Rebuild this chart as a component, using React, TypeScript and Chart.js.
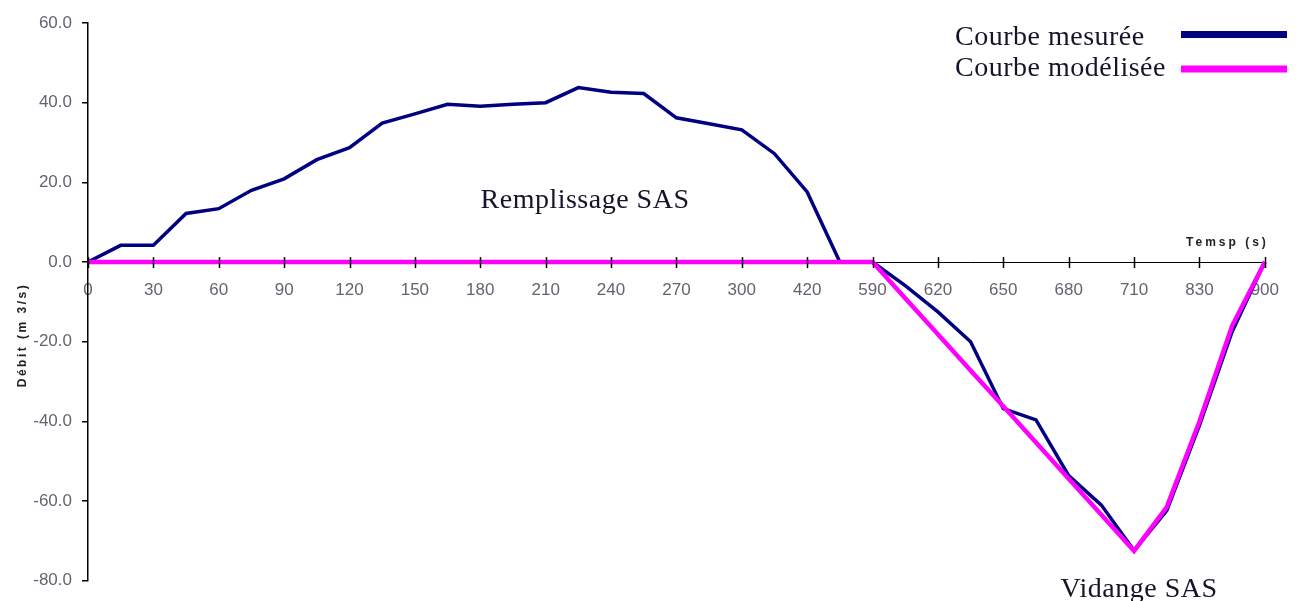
import React, { useEffect, useRef } from "react";
import { Chart, registerables } from "chart.js";

Chart.register(...registerables);

// Time categories (s); only every second one is labelled on the axis
const times: number[] = [
  0, 15, 30, 45, 60, 75, 90, 105, 120, 135, 150, 165, 180, 195, 210, 225, 240, 255,
  270, 285, 300, 360, 420, 505, 590, 605, 620, 635, 650, 665, 680, 695, 710, 770, 830, 865, 900,
];

// Débit mesuré (m3/s)
const measured: number[] = [
  0, 4.2, 4.2, 12.2, 13.4, 18.0, 20.9, 25.7, 28.7, 34.9, 37.2, 39.6, 39.1, 39.6, 40.0, 43.8,
  42.6, 42.3, 36.2, 34.7, 33.2, 27.2, 17.6, 0, 0, -5.9, -12.5, -20.0, -36.8, -39.6, -53.6,
  -61.0, -72.4, -62.4, -41.0, -17.5, 0,
];

// Débit modélisé (m3/s)
const modeled: number[] = [
  0, 0, 0, 0, 0, 0, 0, 0, 0, 0, 0, 0, 0, 0, 0, 0, 0, 0, 0, 0, 0, 0, 0, 0, 0, -9.1, -18.1,
  -27.2, -36.2, -45.3, -54.4, -63.4, -72.5, -61.5, -40.0, -16.0, 0,
];

const seriesNames: string[] = ["Courbe mesurée", "Courbe modélisée"];
const yTicks: number[] = [-80, -60, -40, -20, 0, 20, 40, 60];

const NAVY = "#000080";
const MAGENTA = "#ff00ff";
const TICK_COLOR = "#6a6070";
const TEXT_DARK = "#14142a";

const decorPlugin = {
  id: "decor",
  afterDatasetsDraw(chart: any) {
    const { ctx, chartArea, scales } = chart;
    const x = scales.x;
    const y = scales.y;
    const y0 = y.getPixelForValue(0);
    ctx.save();
    // x tick marks crossing the axis
    ctx.strokeStyle = "#000";
    ctx.lineWidth = 1.5;
    times.forEach((_, i) => {
      if (i % 2 !== 0) return;
      const px = Math.round(x.getPixelForValue(i)) + 0.5;
      ctx.beginPath();
      ctx.moveTo(px, y0 - 5);
      ctx.lineTo(px, y0 + 6);
      ctx.stroke();
    });

    // annotations
    ctx.fillStyle = TEXT_DARK;
    ctx.font = '28px "Liberation Serif", "Times New Roman", serif';
    (ctx as any).letterSpacing = "0.5px";
    ctx.textAlign = "center";
    ctx.textBaseline = "alphabetic";
    ctx.fillText("Remplissage SAS", 585, 208);
    ctx.fillText("Vidange SAS", 1139, 597);

    // legend
    ctx.textAlign = "left";
    ctx.fillText(seriesNames[0], 955, 45);
    ctx.fillText(seriesNames[1], 955, 76);
    ctx.lineWidth = 7;
    ctx.lineCap = "butt";
    ctx.strokeStyle = NAVY;
    ctx.beginPath();
    ctx.moveTo(1181, 34.5);
    ctx.lineTo(1287, 34.5);
    ctx.stroke();
    ctx.strokeStyle = MAGENTA;
    ctx.beginPath();
    ctx.moveTo(1181, 69);
    ctx.lineTo(1287, 69);
    ctx.stroke();

    // axis titles
    ctx.fillStyle = "#222";
    ctx.font = 'bold 12px "Liberation Sans", Arial, sans-serif';
    (ctx as any).letterSpacing = "3px";
    ctx.textAlign = "right";
    ctx.fillText("Temsp (s)", chartArea.right + 4, y0 - 16);

    (ctx as any).letterSpacing = "2.5px";
    ctx.translate(26, 335);
    ctx.rotate(-Math.PI / 2);
    ctx.textAlign = "center";
    ctx.fillText("Débit (m 3/s)", 0, 0);
    ctx.restore();
  },
};

export default function App() {
  const canvasRef = useRef<HTMLCanvasElement | null>(null);

  useEffect(() => {
    if (!canvasRef.current) return;
    const tickFont = {
      family: '"Liberation Sans Narrow", "Liberation Sans", Arial, sans-serif',
      size: 17,
    };
    const chart = new Chart(canvasRef.current, {
      type: "line",
      data: {
        labels: times.map(String),
        datasets: [
          {
            label: seriesNames[0],
            data: measured,
            borderColor: NAVY,
            backgroundColor: NAVY,
            borderWidth: 3.5,
            pointRadius: 0,
            tension: 0,
            order: 2,
          },
          {
            label: seriesNames[1],
            data: modeled,
            borderColor: MAGENTA,
            backgroundColor: MAGENTA,
            borderWidth: 4.5,
            pointRadius: 0,
            tension: 0,
            order: 1,
          },
        ],
      },
      options: {
        responsive: false,
        animation: false,
        devicePixelRatio: 1,
        layout: { padding: { left: 0, right: 29, top: 23, bottom: 18 } },
        plugins: {
          legend: { display: false },
          tooltip: { enabled: false },
          title: { display: false },
        },
        scales: {
          x: {
            type: "category",
            position: { y: 0 } as any,
            offset: false,
            grid: { display: true, drawOnChartArea: false, drawTicks: false },
            border: { display: true, color: "#000", width: 1 },
            ticks: {
              autoSkip: false,
              maxRotation: 0,
              padding: 18,
              color: TICK_COLOR,
              font: tickFont,
              callback: (_v: any, i: number) => (i % 2 === 0 ? String(times[i]) : null),
            },
          },
          y: {
            type: "linear",
            min: -80,
            max: 60,
            afterFit: (scale: any) => {
              scale.width = 88;
            },
            afterBuildTicks: (scale: any) => {
              scale.ticks = yTicks.map((v) => ({ value: v }));
            },
            grid: {
              display: true,
              drawOnChartArea: false,
              drawTicks: true,
              tickLength: 6,
              color: "#000",
              lineWidth: 1.5,
            },
            border: { display: true, color: "#000", width: 1.5 },
            ticks: {
              padding: 10,
              color: TICK_COLOR,
              font: tickFont,
              callback: (v: any) => Number(v).toFixed(1),
            },
          },
        },
      },
      plugins: [decorPlugin],
    });
    return () => chart.destroy();
  }, []);

  return (
    <div style={{ position: "fixed", left: 0, top: 0, width: 1297, height: 601, background: "#fff" }}>
      <canvas ref={canvasRef} width={1297} height={601} />
    </div>
  );
}
